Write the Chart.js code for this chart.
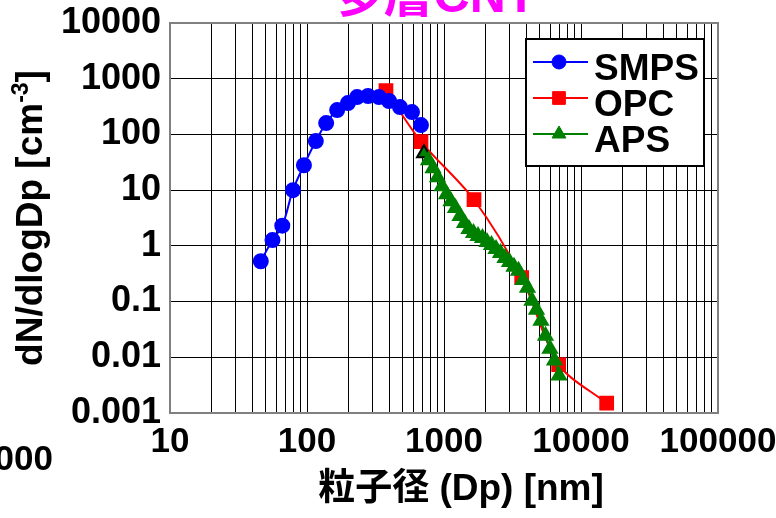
<!DOCTYPE html>
<html>
<head>
<meta charset="utf-8">
<script src="https://cdn.jsdelivr.net/npm/chart.js@4.4.1/dist/chart.umd.min.js"></script>
<style>
  html, body { margin: 0; padding: 0; background: #fff; overflow: hidden; }
  #wrap { position: relative; width: 776px; height: 518px; }
  #stray { position: absolute; left: -100px; top: 438px; width: 153px; text-align: right;
    font: bold 35px "Liberation Sans", Arial, sans-serif; line-height: 40px; color: #000; }
</style>
</head>
<body>
<div id="wrap">
  <canvas id="chart" width="776" height="518"></canvas>
  <div id="stray">10000</div>
</div>
<script>
var chartTitle = '多層CNT';
var xTitle = '粒子径 (Dp) [nm]';
var yTitleMain = 'dN/dlogDp [cm';
var yTitleSup = '-3';
var yTitleEnd = ']';

var xTickValues = [10, 100, 1000, 10000, 100000];
var xTickLabels = ['10', '100', '1000', '10000', '100000'];
var yTickValues = [0.001, 0.01, 0.1, 1, 10, 100, 1000, 10000];
var yTickLabels = ['0.001', '0.01', '0.1', '1', '10', '100', '1000', '10000'];

// SMPS
var smpsDp = [46, 56, 66, 79, 95, 116, 138, 166, 199, 232, 279, 335, 397, 477, 584, 679];
var smpsN = [0.53, 1.27, 2.3, 10, 28, 76, 160, 274, 366, 469, 489, 469, 398, 310, 252, 147];

// OPC
var opcDp = [377, 679, 1656, 3690, 6870, 15400];
var opcN = [612, 74.6, 6.73, 0.269, 0.0074, 0.0015];

// APS
var apsDp = [714, 771, 832, 897, 967, 1043, 1125, 1213, 1309, 1412, 1522, 1642, 1771, 1910, 2060, 2222,
  2397, 2585, 2788, 3007, 3243, 3498, 3773, 4069, 4389, 4734, 5106, 5507, 5940, 6406, 6910];
var apsN = [45.9, 34.4, 24.8, 17.1, 11.8, 8.48, 6.35, 4.76, 3.43, 2.57, 2.01, 1.70, 1.50, 1.38, 1.17, 1.04,
  0.88, 0.747, 0.608, 0.515, 0.420, 0.356, 0.245, 0.177, 0.103, 0.0713, 0.0454, 0.0244, 0.0143, 0.00873, 0.00471];

function pts(xs, ys) {
  return xs.map(function (x, i) { return { x: x, y: ys[i] }; });
}

var boldFont = '"Liberation Sans", Arial, sans-serif';
var cjkFont = '"Liberation Sans", "Noto Sans CJK JP", sans-serif';

var extras = {
  id: 'extras',
  beforeDatasetsDraw: function (chart) {
    var a = chart.chartArea, ctx = chart.ctx;
    ctx.save();
    ctx.strokeStyle = '#808080';
    ctx.lineWidth = 2;
    ctx.strokeRect(a.left, a.top, a.right - a.left, a.bottom - a.top);
    ctx.restore();
  },
  afterDraw: function (chart) {
    var ctx = chart.ctx;
    ctx.save();

    // title, cut at the top like the original
    ctx.fillStyle = '#ff00ff';
    ctx.font = 'bold 50px ' + cjkFont;
    ctx.textAlign = 'center';
    ctx.textBaseline = 'alphabetic';
    ctx.fillText(chartTitle, 435, 12);

    // x axis title
    ctx.fillStyle = '#000';
    ctx.font = 'bold 37px ' + cjkFont;
    ctx.textBaseline = 'middle';
    ctx.fillText(xTitle, 461, 490);

    // y axis title with superscript
    ctx.save();
    ctx.translate(42, 218);
    ctx.rotate(-Math.PI / 2);
    ctx.textAlign = 'left';
    ctx.textBaseline = 'alphabetic';
    ctx.font = 'bold 37px ' + boldFont;
    var w1 = ctx.measureText(yTitleMain).width;
    var w3 = ctx.measureText(yTitleEnd).width;
    ctx.font = 'bold 23px ' + boldFont;
    var w2 = ctx.measureText(yTitleSup).width;
    var x0 = -(w1 + w2 + w3) / 2;
    ctx.font = 'bold 37px ' + boldFont;
    ctx.fillText(yTitleMain, x0, 0);
    ctx.fillText(yTitleEnd, x0 + w1 + w2, 0);
    ctx.font = 'bold 23px ' + boldFont;
    ctx.fillText(yTitleSup, x0 + w1, -14);
    ctx.restore();

    // legend box
    var lg = { left: 526, top: 39, right: 704, bottom: 166 };
    ctx.fillStyle = '#fff';
    ctx.fillRect(lg.left, lg.top, lg.right - lg.left, lg.bottom - lg.top);
    ctx.strokeStyle = '#000';
    ctx.lineWidth = 2;
    ctx.strokeRect(lg.left, lg.top, lg.right - lg.left, lg.bottom - lg.top);
    chart.data.datasets.forEach(function (ds, i) {
      var y = 62 + i * 36;
      ctx.strokeStyle = ds.borderColor;
      ctx.lineWidth = 2;
      ctx.beginPath();
      ctx.moveTo(533, y);
      ctx.lineTo(588, y);
      ctx.stroke();
      ctx.fillStyle = ds.backgroundColor;
      ctx.lineWidth = 1;
      Chart.helpers.drawPoint(ctx, { pointStyle: ds.pointStyle, radius: ds.pointRadius, borderWidth: 1, rotation: 0 }, 559, y);
      ctx.fillStyle = '#000';
      ctx.font = 'bold 37px ' + boldFont;
      ctx.textAlign = 'left';
      ctx.textBaseline = 'middle';
      ctx.fillText(ds.label, 594, y + 8);
    });
    ctx.restore();
  }
};

new Chart(document.getElementById('chart'), {
  type: 'line',
  data: {
    datasets: [
      {
        label: 'SMPS', data: pts(smpsDp, smpsN),
        borderColor: '#0000ff', backgroundColor: '#0000ff',
        pointBackgroundColor: '#0000ff', pointBorderColor: '#0000ff',
        pointStyle: 'circle', pointRadius: 7, borderWidth: 2, tension: 0.4, order: 1
      },
      {
        label: 'OPC', data: pts(opcDp, opcN),
        borderColor: '#ff0000', backgroundColor: '#ff0000',
        pointBackgroundColor: '#ff0000', pointBorderColor: '#ff0000',
        pointStyle: 'rect', pointRadius: 9, borderWidth: 2, tension: 0.3, order: 2
      },
      {
        label: 'APS', data: pts(apsDp, apsN),
        borderColor: '#008000', backgroundColor: '#008000',
        pointBackgroundColor: '#008000',
        pointBorderColor: function (c) { return c.dataIndex === 0 ? '#000' : '#008000'; },
        pointStyle: 'triangle', pointRadius: 8, borderWidth: 2, tension: 0.3, order: 0
      }
    ]
  },
  options: {
    responsive: false,
    animation: false,
    devicePixelRatio: 1,
    layout: { padding: { top: 23, right: 58, left: 0, bottom: 0 } },
    plugins: {
      legend: { display: false },
      title: { display: false },
      tooltip: { enabled: false }
    },
    scales: {
      x: {
        type: 'logarithmic', min: 10, max: 100000,
        afterBuildTicks: function (s) {
          var t = [];
          xTickValues.forEach(function (d, i) {
            for (var k = 1; k <= 9; k++) {
              if (i === xTickValues.length - 1 && k > 1) break;
              t.push({ value: d * k });
            }
          });
          s.ticks = t;
        },
        afterFit: function (s) {
          s.height = 105;
          s.paddingLeft = 0; s.paddingRight = 0; s.paddingTop = 0; s.paddingBottom = 0;
        },
        grid: { color: '#000', lineWidth: 1, drawTicks: false },
        border: { display: false },
        ticks: {
          autoSkip: false, maxRotation: 0, minRotation: 0, padding: 8, color: '#000',
          font: { family: boldFont, size: 35, weight: 'bold' },
          callback: function (v) {
            var i = xTickValues.indexOf(v);
            return i < 0 ? '' : xTickLabels[i];
          }
        }
      },
      y: {
        type: 'logarithmic', min: 0.001, max: 10000,
        afterBuildTicks: function (s) {
          s.ticks = yTickValues.map(function (v) { return { value: v }; });
        },
        afterFit: function (s) {
          s.width = 170;
          s.paddingLeft = 0; s.paddingRight = 0; s.paddingTop = 0; s.paddingBottom = 0;
        },
        grid: { color: '#000', lineWidth: 1, drawTicks: false },
        border: { display: false },
        ticks: {
          autoSkip: false, padding: 9, color: '#000',
          font: { family: boldFont, size: 36, weight: 'bold' },
          callback: function (v) {
            var i = yTickValues.indexOf(v);
            return i < 0 ? '' : yTickLabels[i];
          }
        }
      }
    }
  },
  plugins: [extras]
});
</script>
</body>
</html>
